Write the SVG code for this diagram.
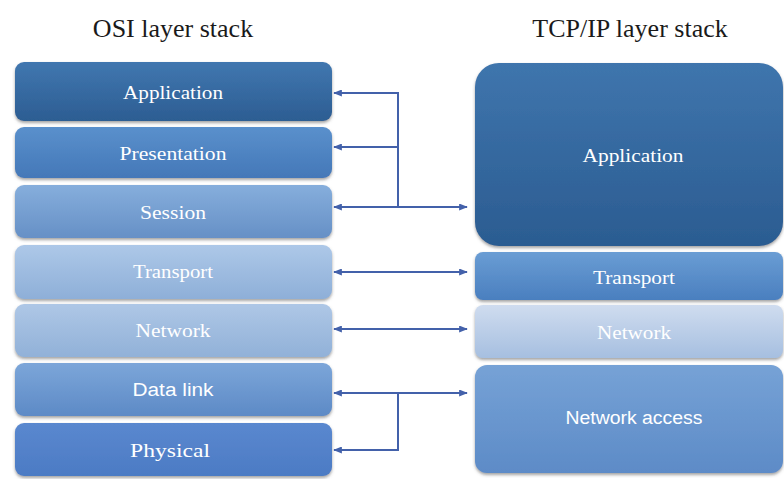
<svg xmlns="http://www.w3.org/2000/svg" width="784" height="479" viewBox="0 0 784 479">
  <defs>
    <style>
      .title { font-family: "Liberation Serif", "Times New Roman", serif; font-size: 26px; fill: #1a1a1a; text-anchor: middle; }
      .lbl { font-family: "Liberation Serif", "Times New Roman", serif; font-size: 19px; fill: #ffffff; text-anchor: middle; dominant-baseline: central; }
      .lbl-sans { font-family: "Liberation Sans", Arial, sans-serif; font-size: 18px; fill: #ffffff; text-anchor: middle; dominant-baseline: central; }
      .box { filter: url(#shadow); }
      .link { fill: none; stroke: #4361aa; stroke-width: 2; }
    </style>
    <filter id="shadow" x="-5%" y="-10%" width="110%" height="130%">
      <feDropShadow dx="0" dy="2" stdDeviation="1.6" flood-color="#5a5a5a" flood-opacity="0.55"/>
    </filter>
    <marker id="ah" viewBox="0 0 10 8" refX="9" refY="4" markerWidth="9" markerHeight="7" markerUnits="userSpaceOnUse" orient="auto-start-reverse">
      <path d="M0,0 L10,4 L0,8 z" fill="#4361aa"/>
    </marker>
    <linearGradient id="gApp" x1="0" y1="0" x2="0" y2="1">
      <stop offset="0" stop-color="#4177b0"/><stop offset="1" stop-color="#2c5d92"/>
    </linearGradient>
    <linearGradient id="gPres" x1="0" y1="0" x2="0" y2="1">
      <stop offset="0" stop-color="#5a90cc"/><stop offset="1" stop-color="#4478b8"/>
    </linearGradient>
    <linearGradient id="gSess" x1="0" y1="0" x2="0" y2="1">
      <stop offset="0" stop-color="#86aedc"/><stop offset="1" stop-color="#6690c6"/>
    </linearGradient>
    <linearGradient id="gTrans" x1="0" y1="0" x2="0" y2="1">
      <stop offset="0" stop-color="#adc8e8"/><stop offset="1" stop-color="#8eafd8"/>
    </linearGradient>
    <linearGradient id="gNet" x1="0" y1="0" x2="0" y2="1">
      <stop offset="0" stop-color="#aec7e6"/><stop offset="1" stop-color="#91b1d8"/>
    </linearGradient>
    <linearGradient id="gData" x1="0" y1="0" x2="0" y2="1">
      <stop offset="0" stop-color="#7ca6d9"/><stop offset="1" stop-color="#5d8ac6"/>
    </linearGradient>
    <linearGradient id="gPhys" x1="0" y1="0" x2="0" y2="1">
      <stop offset="0" stop-color="#5a88cf"/><stop offset="1" stop-color="#4c7bc4"/>
    </linearGradient>
    <linearGradient id="gRApp" x1="0" y1="0" x2="0" y2="1">
      <stop offset="0" stop-color="#3f75ad"/><stop offset="1" stop-color="#2b5c91"/>
    </linearGradient>
    <linearGradient id="gRTrans" x1="0" y1="0" x2="0" y2="1">
      <stop offset="0" stop-color="#6a9dd4"/><stop offset="1" stop-color="#4a7fbf"/>
    </linearGradient>
    <linearGradient id="gRNet" x1="0" y1="0" x2="0" y2="1">
      <stop offset="0" stop-color="#cfdcef"/><stop offset="1" stop-color="#a6bfe0"/>
    </linearGradient>
    <linearGradient id="gRAcc" x1="0" y1="0" x2="0" y2="1">
      <stop offset="0" stop-color="#76a2d6"/><stop offset="1" stop-color="#5d8bc7"/>
    </linearGradient>
  </defs>

  <rect width="784" height="479" fill="#ffffff"/>

  <!-- column headings -->
  <text class="title" x="173" y="37">OSI layer stack</text>
  <text class="title" x="630" y="37">TCP/IP layer stack</text>

  <!-- OSI stack -->
  <g id="osi-application">
    <rect class="box" x="15" y="62" width="317" height="59" rx="9" fill="url(#gApp)"/>
    <text class="lbl" x="173" y="92" textLength="100" lengthAdjust="spacingAndGlyphs">Application</text>
  </g>
  <g id="osi-presentation">
    <rect class="box" x="15" y="127" width="317" height="51" rx="9" fill="url(#gPres)"/>
    <text class="lbl" x="173" y="153" textLength="107" lengthAdjust="spacingAndGlyphs">Presentation</text>
  </g>
  <g id="osi-session">
    <rect class="box" x="15" y="185" width="317" height="53" rx="9" fill="url(#gSess)"/>
    <text class="lbl" x="173" y="212" textLength="66" lengthAdjust="spacingAndGlyphs">Session</text>
  </g>
  <g id="osi-transport">
    <rect class="box" x="15" y="245" width="317" height="54" rx="9" fill="url(#gTrans)"/>
    <text class="lbl" x="173" y="271" textLength="80" lengthAdjust="spacingAndGlyphs">Transport</text>
  </g>
  <g id="osi-network">
    <rect class="box" x="15" y="304" width="317" height="53" rx="9" fill="url(#gNet)"/>
    <text class="lbl" x="173" y="330" textLength="75" lengthAdjust="spacingAndGlyphs">Network</text>
  </g>
  <g id="osi-datalink">
    <rect class="box" x="15" y="363" width="317" height="53" rx="9" fill="url(#gData)"/>
    <text class="lbl-sans" x="173" y="390" textLength="81" lengthAdjust="spacingAndGlyphs">Data link</text>
  </g>
  <g id="osi-physical">
    <rect class="box" x="15" y="423" width="317" height="53" rx="9" fill="url(#gPhys)"/>
    <text class="lbl" x="170" y="450" textLength="80" lengthAdjust="spacingAndGlyphs">Physical</text>
  </g>

  <!-- TCP/IP stack -->
  <g id="tcpip-application">
    <rect class="box" x="475" y="63" width="308" height="183" rx="24" fill="url(#gRApp)"/>
    <text class="lbl" x="633" y="155" textLength="101" lengthAdjust="spacingAndGlyphs">Application</text>
  </g>
  <g id="tcpip-transport">
    <rect class="box" x="475" y="252" width="308" height="48" rx="8" fill="url(#gRTrans)"/>
    <text class="lbl" x="634" y="277" textLength="82" lengthAdjust="spacingAndGlyphs">Transport</text>
  </g>
  <g id="tcpip-network">
    <rect class="box" x="475" y="305" width="308" height="53" rx="8" fill="url(#gRNet)"/>
    <text class="lbl" x="634" y="332" textLength="74" lengthAdjust="spacingAndGlyphs" fill="#f3f7fc">Network</text>
  </g>
  <g id="tcpip-network-access">
    <rect class="box" x="475" y="365" width="308" height="108" rx="12" fill="url(#gRAcc)"/>
    <text class="lbl-sans" x="634" y="418" textLength="137" lengthAdjust="spacingAndGlyphs">Network access</text>
  </g>

  <!-- layer correspondences -->
  <g id="connectors">
    <polyline class="link" points="334,93 398,93 398,207" marker-start="url(#ah)"/>
    <line class="link" x1="398" y1="147" x2="334" y2="147" marker-end="url(#ah)"/>
    <line class="link" x1="334" y1="207" x2="467" y2="207" marker-start="url(#ah)" marker-end="url(#ah)"/>
    <line class="link" x1="334" y1="272" x2="467" y2="272" marker-start="url(#ah)" marker-end="url(#ah)"/>
    <line class="link" x1="334" y1="329" x2="467" y2="329" marker-start="url(#ah)" marker-end="url(#ah)"/>
    <line class="link" x1="334" y1="393" x2="467" y2="393" marker-start="url(#ah)" marker-end="url(#ah)"/>
    <polyline class="link" points="334,450 398,450 398,393" marker-start="url(#ah)"/>
  </g>
</svg>
